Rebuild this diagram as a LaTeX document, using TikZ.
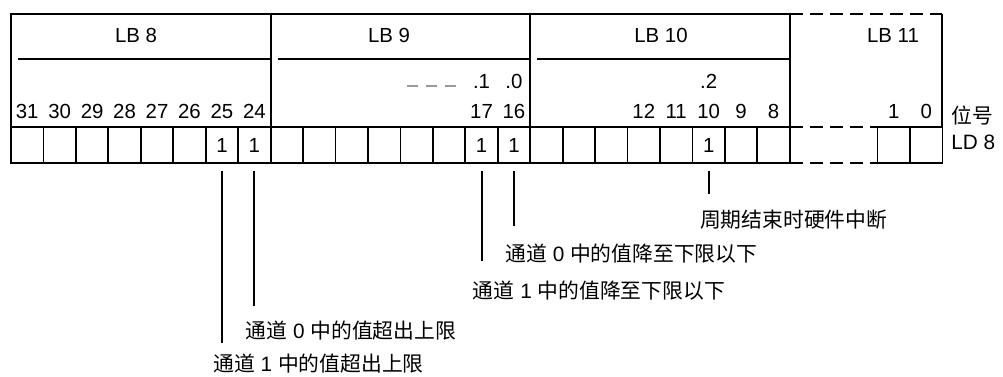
\documentclass[tikz,border=0pt]{standalone}
\usepackage{fontspec}
\setmainfont{Liberation Sans}
\newfontfamily\cjk{Noto Sans CJK SC}
\usetikzlibrary{calc}
\tikzset{
  frame/.style={draw, line width=1pt},
  sepline/.style={line width=0.8pt},
  openframe/.style={line width=0.8pt, dash pattern=on 6.5pt off 3.5pt},
  cell/.style={draw, line width=0.9pt, minimum width=16.225pt,
               minimum height=18pt, inner sep=0pt},
  bytehead/.style={font=\fontsize{10.2}{12}\selectfont, inner sep=0pt},
  bitnum/.style={font=\fontsize{10.2}{12}\selectfont, inner sep=0pt},
  bitval/.style={font=\fontsize{10.2}{12}\selectfont, inner sep=0pt},
  skipdash/.style={draw=gray!80, line width=0.8pt, dash pattern=on 5.5pt off 4pt},
  lead/.style={line width=1pt},
  note/.style={font=\fontsize{10.4}{12}\selectfont, inner sep=0pt, anchor=west},
}
\begin{document}
\begin{tikzpicture}[x=0.5pt, y=-0.5pt]
  \useasboundingbox (0,0) rectangle (1003,376);
  % frames of LB 8, LB 9 and LB 10
  \foreach \i in {0,1,2} {
    \draw[frame] ({11+259.6*\i},14) rectangle ({270.6+259.6*\i},163);
    \draw[sepline] ({18+259.6*\i},59) -- ({270.6+259.6*\i},59);
  }
  % LB 11 is only partly shown
  \draw[openframe] (790,14) -- (942,14);
  \draw[openframe] (790,127) -- (877.6,127);
  \draw[openframe] (790,163) -- (877.6,163);
  \draw[frame] (942,14) -- (942,127);

  \node[bytehead] (lb8) at (136,35.5) {LB 8};
  \node[bytehead] (lb9) at (389,35.5) {LB 9};
  \node[bytehead] (lb10) at (661,35.5) {LB 10};
  \node[bytehead] (lb11) at (893,35.5) {LB 11};

  % bit cells
  \coordinate (numrow) at (0,111.5);
  \coordinate (dotrow) at (0,81.5);
  \foreach \b in {31,...,8}
    \node[cell] (c\b) at ({11+32.45*(31.5-\b)},145) {};
  \node[cell] (c1) at (893.8,145) {};
  \node[cell] (c0) at (926.2,145) {};
  \foreach \b in {25,24,17,16,10}
    \node[bitval] (v\b) at (c\b) {1};

  % bit numbers
  \foreach \b in {31,30,29,28,27,26,25,24,17,16,12,11,10,9,8,1,0}
    \node[bitnum] (n\b) at (c\b |- numrow) {\b};
  \node[bitnum] (d1) at (c17 |- dotrow) {.1};
  \node[bitnum] (d0) at (c16 |- dotrow) {.0};
  \node[bitnum] (d2) at (c10 |- dotrow) {.2};
  \draw[skipdash] (407,86) -- (456,86);

  \node[note] (pos) at (951,116) {\cjk 位号};
  \node[note] (ld8) at (951,142) {LD 8};

  % leads down to the notes
  \foreach \b/\len/\dy/\txt in {
      10/193/26/{{\cjk 周期结束时硬件中断}},
      16/225/28/{{\cjk 通道} 0 {\cjk 中的值降至下限以下}},
      17/260/30/{{\cjk 通道} 1 {\cjk 中的值降至下限以下}},
      24/305/25/{{\cjk 通道} 0 {\cjk 中的值超出上限}},
      25/342/21/{{\cjk 通道} 1 {\cjk 中的值超出上限}}} {
    \path (c\b.south) ++(0,{\len-163}) coordinate (e\b);
    \draw[lead] ([yshift=-3.5pt]c\b.south) -- (e\b);
    \node[note] (t\b) at ([shift={(-9,\dy)}]e\b) {\txt};
  }
\end{tikzpicture}
\end{document}
